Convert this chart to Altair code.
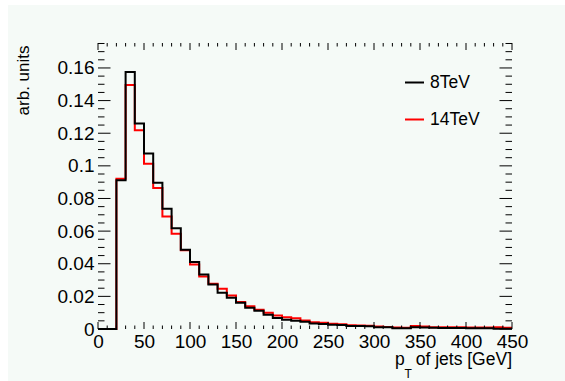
import altair as alt
import pandas as pd

# ---------------- data ----------------
bin_low = list(range(0, 450, 10))
bin_top = 450
series_names = ["8TeV", "14TeV"]
vals_8 = [0.0, 0.0, 0.0911, 0.1575, 0.1259, 0.1075, 0.0897, 0.0737, 0.0618, 0.0486,
          0.0410, 0.0334, 0.0273, 0.0222, 0.0191, 0.0161, 0.0130, 0.0112, 0.0088, 0.0068,
          0.0056, 0.0050, 0.0045, 0.0033, 0.0030, 0.0026, 0.0024, 0.0019, 0.0018, 0.0017,
          0.0011, 0.0010, 0.0005, 0.0004, 0.0010, 0.0009, 0.0007, 0.0006, 0.0006, 0.0006,
          0.0005, 0.0005, 0.0005, 0.0002, 0.0002]
vals_14 = [0.0, 0.0, 0.0921, 0.1495, 0.1218, 0.1013, 0.0864, 0.0690, 0.0584, 0.0482,
           0.0396, 0.0322, 0.0277, 0.0247, 0.0206, 0.0165, 0.0140, 0.0118, 0.0099, 0.0083,
           0.0072, 0.0066, 0.0052, 0.0041, 0.0038, 0.0032, 0.0029, 0.0023, 0.0021, 0.0020,
           0.0015, 0.0013, 0.0009, 0.0008, 0.0018, 0.0016, 0.0011, 0.0010, 0.0010, 0.0010,
           0.0009, 0.0009, 0.0009, 0.0010, 0.0008]
x_major = list(range(0, 451, 50))
x_minor = [v for v in range(0, 451, 10) if v % 50]
y_major = [0, 0.02, 0.04, 0.06, 0.08, 0.1, 0.12, 0.14, 0.16]
y_minor = [round(i * 0.005, 3) for i in range(36) if i % 4]
x_title_main = " of jets [GeV]"
x_title_p = "p"
x_title_sub = "T"
y_title = "arb. units"

# ---------------- build tables ----------------
rows = []
for name, vals in (("14TeV", vals_14), ("8TeV", vals_8)):
    for lo, v in zip(bin_low, vals):
        rows.append({"pt": lo, "val": v, "series": name})
    rows.append({"pt": bin_top, "val": vals[-1], "series": name})
df = pd.DataFrame(rows)

W, H = 414, 286
FONT = "Liberation Sans"
BG = "#f5faf7"

xscale = alt.Scale(domain=[0, 450], nice=False, zero=False)
yscale = alt.Scale(domain=[0, 0.1753], nice=False)
cscale = alt.Scale(domain=series_names, range=["black", "red"])

xaxis = alt.Axis(values=x_major, ticks=False, tickSize=0, domain=False, grid=False,
                 labelFontSize=19, labelFont=FONT, labelColor="black", labelPadding=3,
                 labelFlush=False, labelOverlap=False, title=None, zindex=1)
yaxis = alt.Axis(values=y_major, format="~g", ticks=False, tickSize=0, domain=False, grid=False,
                 labelFontSize=19, labelFont=FONT, labelColor="black", labelPadding=4,
                 labelFlush=False, labelOverlap=False, zindex=1,
                 title=y_title, titleFont=FONT, titleFontSize=17, titleFontWeight="normal",
                 titleColor="black", titleAngle=270, titleAlign="right", titleBaseline="bottom",
                 titleX=-66, titleY=2)

legend = alt.Legend(title=None, orient="none", legendX=306, legendY=29,
                    symbolType="stroke", symbolSize=361, symbolStrokeWidth=2,
                    labelFont=FONT, labelFontSize=17.5, labelColor="black",
                    labelOffset=5, rowPadding=18, padding=0)

base = alt.Chart(df)

bg_rect = alt.Chart(pd.DataFrame({"a": [0]})).mark_rect(fill=BG).encode(
    x=alt.value(-90), x2=alt.value(467), y=alt.value(-38), y2=alt.value(338))

line_14 = base.transform_filter(alt.datum.series == "14TeV").mark_line(
    interpolate="step-after", strokeWidth=2).encode(
    x=alt.X("pt:Q", scale=xscale, axis=xaxis),
    y=alt.Y("val:Q", scale=yscale, axis=yaxis),
    color=alt.Color("series:N", scale=cscale, legend=legend))
line_8 = base.transform_filter(alt.datum.series == "8TeV").mark_line(
    interpolate="step-after", strokeWidth=2).encode(
    x=alt.X("pt:Q", scale=xscale, axis=xaxis),
    y=alt.Y("val:Q", scale=yscale, axis=yaxis),
    color=alt.Color("series:N", scale=cscale, legend=legend))

# inward ticks on all four sides
xmaj = pd.DataFrame({"t": x_major})
xmin = pd.DataFrame({"t": x_minor})
ymaj = pd.DataFrame({"t": y_major})
ymin = pd.DataFrame({"t": y_minor})

def xticks(d, length):
    b = alt.Chart(d).mark_rule(color="black", strokeWidth=1)
    enc_x = alt.X("t:Q", scale=xscale, axis=xaxis)
    bottom = b.encode(x=enc_x, y=alt.value(H), y2=alt.value(H - length))
    top = b.encode(x=enc_x, y=alt.value(0), y2=alt.value(length))
    return bottom + top

def yticks(d, length):
    b = alt.Chart(d).mark_rule(color="black", strokeWidth=1)
    enc_y = alt.Y("t:Q", scale=yscale, axis=yaxis)
    left = b.encode(y=enc_y, x=alt.value(0), x2=alt.value(length))
    right = b.encode(y=enc_y, x=alt.value(W), x2=alt.value(W - length))
    return left + right

one = pd.DataFrame({"a": [0]})
t_main = alt.Chart(one).mark_text(text=x_title_main, font=FONT, fontSize=17.5, align="right",
                                  baseline="alphabetic", color="black").encode(
    x=alt.value(W), y=alt.value(322))
t_p = alt.Chart(one).mark_text(text=x_title_p, font=FONT, fontSize=17.5, align="left",
                               baseline="alphabetic", color="black").encode(
    x=alt.value(297), y=alt.value(322))
t_sub = alt.Chart(one).mark_text(text=x_title_sub, font=FONT, fontSize=12, align="left",
                                 baseline="alphabetic", color="black").encode(
    x=alt.value(306.5), y=alt.value(335))

chart = alt.layer(
    bg_rect, line_14, line_8,
    xticks(xmaj, 7), xticks(xmin, 3.5), yticks(ymaj, 12.5), yticks(ymin, 6.5),
    t_main, t_p, t_sub,
).properties(
    width=W, height=H,
    autosize=alt.AutoSizeParams(type="none"),
    padding={"left": 98, "top": 43, "right": 53, "bottom": 52},
    background="white",
).configure_view(stroke="black", strokeWidth=1.2)

chart.save("out.html", embed_options={"renderer": "svg", "actions": False})
